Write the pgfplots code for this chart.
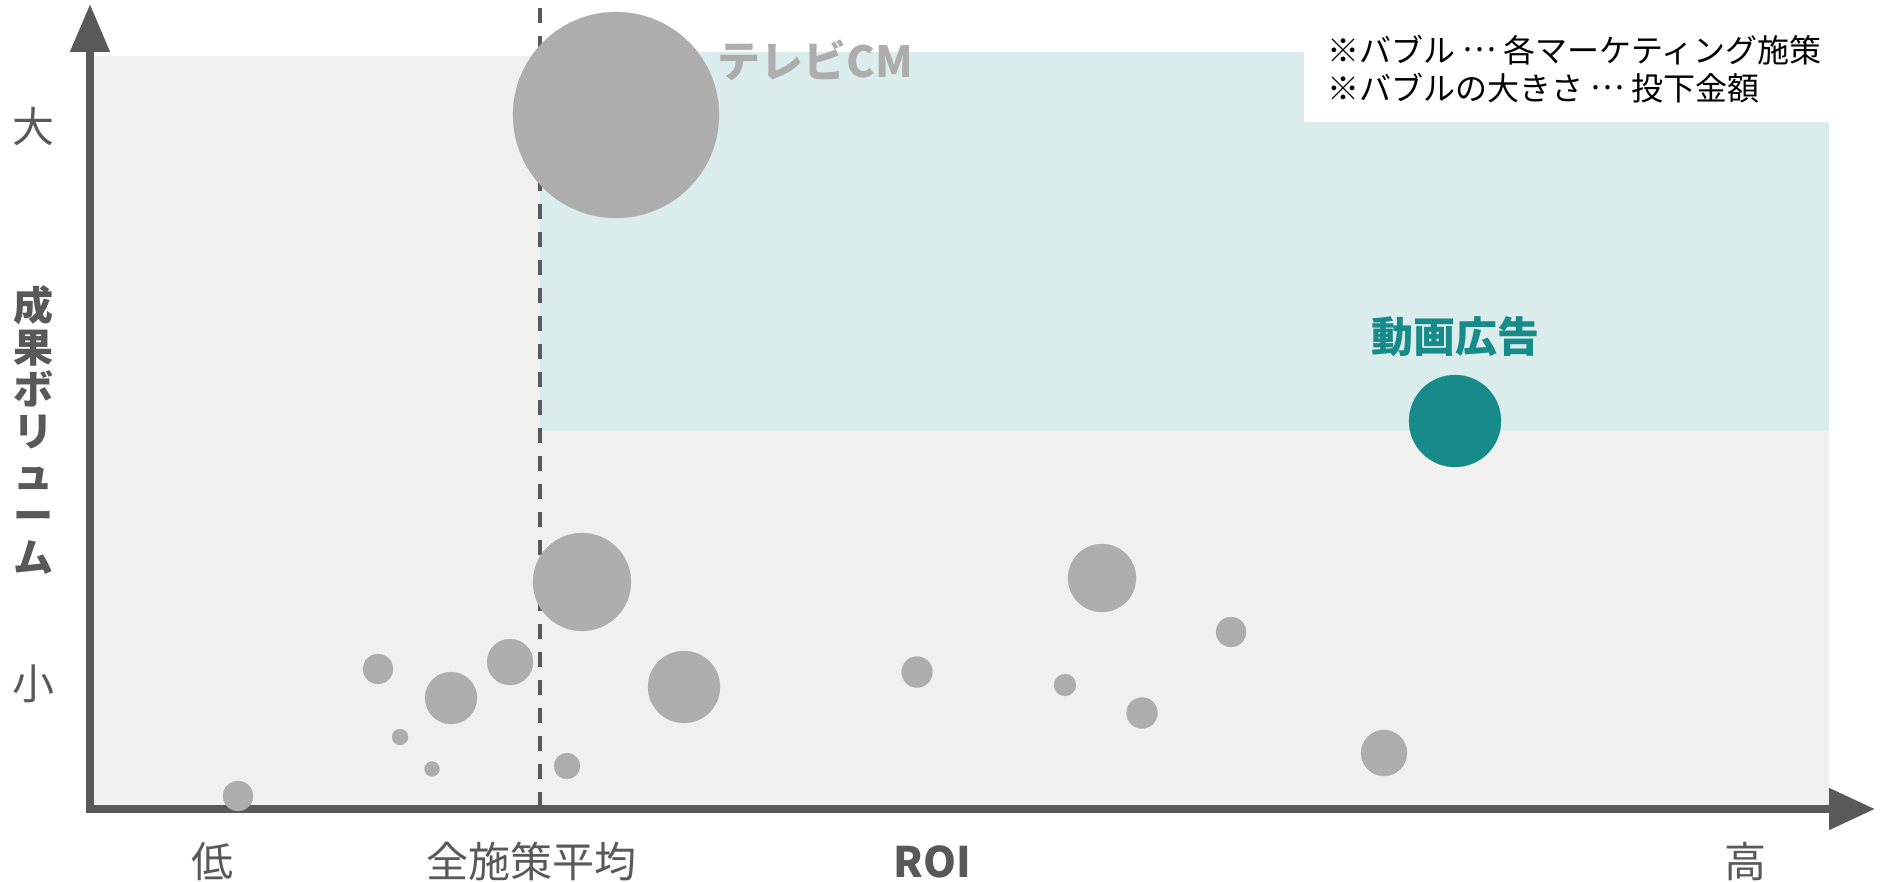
\documentclass[border=0pt]{standalone}
\usepackage{pgfplots}
\pgfplotsset{compat=1.18}
\usepackage{pgfplotstable}
\usepackage{fontspec}
\setmainfont{Noto Sans CJK JP}
\usetikzlibrary{arrows.meta}
\definecolor{axisgray}{HTML}{595959}
\definecolor{bubblegray}{HTML}{ADADAD}
\definecolor{bggray}{HTML}{F0F0F0}
\definecolor{tealbg}{HTML}{DBECEC}
\definecolor{tealmain}{HTML}{178A8A}
\newcommand{\mdots}{\raisebox{0.33em}{…}}
% x = ROI (chart units), y = result volume (chart units), r = bubble radius (spend)
\pgfplotstableread{
x y r
492 227 49
1012 231 34
1141 177 15
288 140 15
420 147 23
361 111 26
594 122 36
827 137 15.5
975 124 11
1052 96 15.5
1294 56 23
310 72 8
342 40 7.5
477 43 13
148 13 15
}\others
\pgfplotstableread{
x y r
526 694 103
}\tvcm
\pgfplotstableread{
x y r
1365 388 46
}\video
\begin{document}
\begin{tikzpicture}
\begin{axis}[
  x=0.5pt, y=0.5pt,
  xmin=-90, xmax=1793, ymin=-72, ymax=809,
  axis line style={draw=none}, ticks=none, clip=false,
  bubble/.style={scatter, only marks, mark=*,
    scatter/use mapped color={draw=#1, fill=#1, line width=0.1pt},
    visualization depends on={0.5*\thisrow{r} \as \psize},
    scatter/@pre marker code/.append style={/tikz/mark size=\psize pt}},
]
% backgrounds
\fill[bggray] (axis cs:0,0) rectangle (axis cs:1739,753);
\fill[tealbg] (axis cs:450,378) rectangle (axis cs:1739,757);
\fill[white] (axis cs:1214,687) rectangle (axis cs:1793,809);
% bubbles
\addplot[bubble=bubblegray] table[x=x, y=y, meta=r] {\others};
\addplot[bubble=bubblegray] table[x=x, y=y, meta=r] {\tvcm};
\addplot[bubble=tealmain] table[x=x, y=y, meta=r] {\video};
% average line
\draw[axisgray, line width=2pt, dash pattern=on 7.5pt off 6.5pt] (axis cs:450,801) -- (axis cs:450,0);
% axes
\draw[axisgray, line width=4pt, -{Triangle[length=23pt, width=20pt]}] (axis cs:-4,0) -- (axis cs:1785,0);
\draw[axisgray, line width=4pt, -{Triangle[length=24pt, width=19pt]}] (axis cs:0,-4) -- (axis cs:0,805);
% labels
\begin{scope}[every node/.style={inner sep=0pt}]
\node[text=bubblegray, font=\bfseries\fontsize{21.5pt}{24pt}\selectfont, anchor=west] at (axis cs:627,749) {テレビCM};
\node[text=tealmain, font=\bfseries\fontsize{21pt}{24pt}\selectfont] at (axis cs:1365,472) {動画広告};
\node[text=black, align=left, font=\fontsize{16pt}{19pt}\selectfont, anchor=west] at (axis cs:1237,740) {※バブル \mdots{} 各マーケティング施策\\※バブルの大きさ \mdots{} 投下金額};
\node[text=axisgray, font=\fontsize{21pt}{24pt}\selectfont] at (axis cs:122,-53) {低};
\node[text=axisgray, font=\fontsize{21pt}{24pt}\selectfont] at (axis cs:441,-53) {全施策平均};
\node[text=axisgray, font=\bfseries\fontsize{21pt}{24pt}\selectfont] at (axis cs:842,-53) {ROI};
\node[text=axisgray, font=\fontsize{21pt}{24pt}\selectfont] at (axis cs:1655,-53) {高};
\node[text=axisgray, font=\fontsize{21pt}{24pt}\selectfont] at (axis cs:-57,682) {大};
\node[text=axisgray, font=\fontsize{21pt}{24pt}\selectfont] at (axis cs:-57,125) {小};
\node[text=axisgray, align=center, font=\bfseries\fontsize{20pt}{21pt}\selectfont] at (axis cs:-57,379) {成\\果\\ボ\\リ\\ュ\\ー\\ム};
\end{scope}
\end{axis}
\end{tikzpicture}
\end{document}
